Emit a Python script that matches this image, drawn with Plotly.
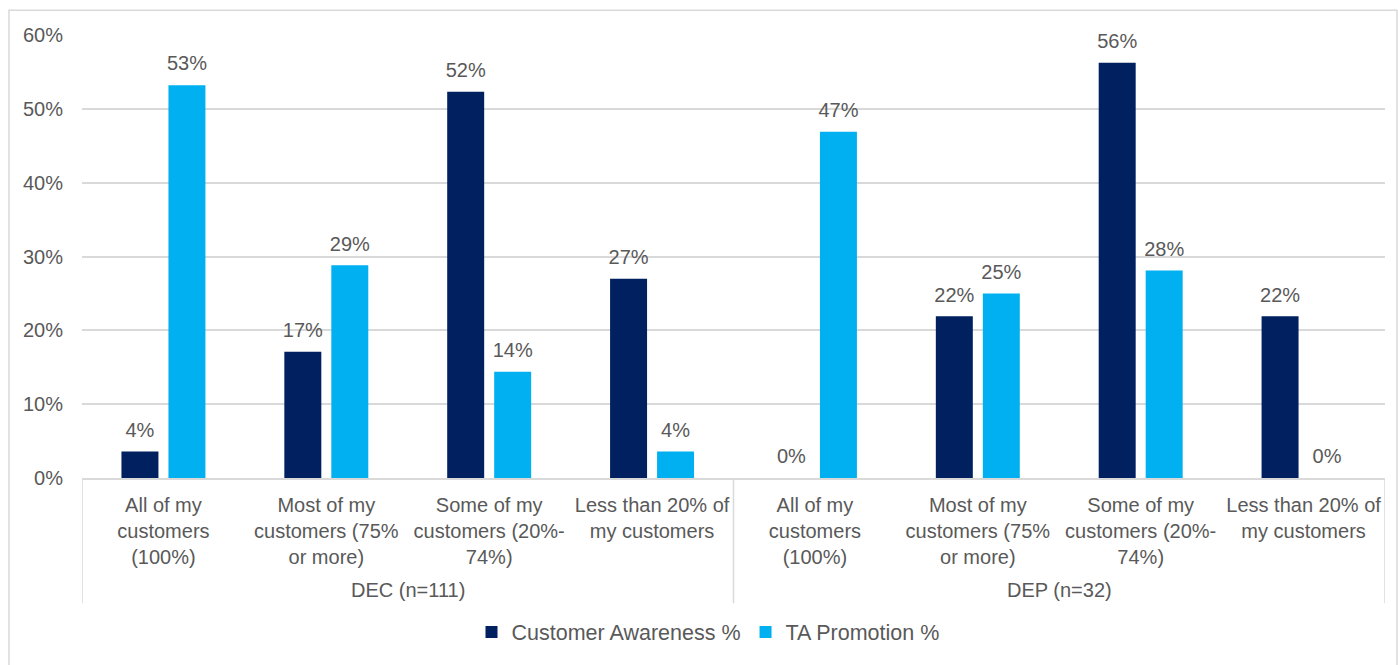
import plotly.graph_objects as go

# Survey groups and answer categories
group_names = ["DEC (n=111)", "DEP (n=32)"]
answers = [
    "All of my<br>customers<br>(100%)",
    "Most of my<br>customers (75%<br>or more)",
    "Some of my<br>customers (20%-<br>74%)",
    "Less than 20% of<br>my customers",
]
categories = answers * 2

# Share of respondents (fractions)
customer_awareness = [0.036, 0.171, 0.523, 0.270, 0.0, 0.219, 0.5625, 0.219]
ta_promotion = [0.532, 0.288, 0.144, 0.036, 0.469, 0.25, 0.281, 0.0]

FONT = "Liberation Sans"
TEXT = "#595959"
GRID = "#d9d9d9"

xpos = list(range(len(categories)))
n_per_group = len(answers)

fig = go.Figure()
series = [
    ("Customer Awareness %", customer_awareness, "#002060"),
    ("TA Promotion %", ta_promotion, "#00B0F0"),
]
for name, vals, color in series:
    fig.add_trace(go.Bar(
        name=name, x=xpos, y=vals,
        marker=dict(color=color, line=dict(width=0)),
        offsetgroup=name, hoverinfo="name+y",
    ))
# value labels, grouped alongside the bars
for name, vals, color in series:
    fig.add_trace(go.Scatter(
        x=xpos, y=vals, mode="markers+text",
        marker=dict(size=14, color="rgba(0,0,0,0)"),
        text=[f"{v:.0%}" for v in vals],
        textposition="top center",
        textfont=dict(family=FONT, size=20, color=TEXT),
        offsetgroup=name, showlegend=False, hoverinfo="skip",
        cliponaxis=False,
    ))

pw, ph = 1303, 446
def py(px):
    return (481 - px) / ph

# group labels beneath the category labels
for g, name in enumerate(group_names):
    fig.add_annotation(
        x=g * n_per_group + (n_per_group - 1) / 2, xref="x",
        y=py(594), yref="paper", yanchor="middle",
        text=name, showarrow=False,
        font=dict(family=FONT, size=20, color=TEXT),
    )
# group dividers
for g in range(len(group_names) + 1):
    xd = g * n_per_group - 0.5
    fig.add_shape(type="line", xref="x", yref="paper",
                  x0=xd, x1=xd, y0=0, y1=py(607),
                  line=dict(color=GRID, width=1.5))

# Outer frame around the chart
fig.add_shape(
    type="rect", xref="paper", yref="paper",
    x0=(9 - 82) / pw, x1=(1397 - 82) / pw,
    y0=py(700), y1=py(10),
    line=dict(color=GRID, width=1.5), layer="below",
)

fig.update_layout(
    width=1398, height=665,
    margin=dict(l=82, r=13, t=35, b=184),
    paper_bgcolor="white", plot_bgcolor="white",
    barmode="group", bargap=0.423, bargroupgap=0.213,
    scattermode="group", scattergap=0.423,
    font=dict(family=FONT, size=20, color=TEXT),
    showlegend=True,
    legend=dict(
        orientation="h", x=(711 - 3 - 82) / pw, xanchor="center",
        y=py(636), yanchor="middle",
        font=dict(family=FONT, size=21.5, color=TEXT),
    ),
    xaxis=dict(
        range=[-0.5, len(categories) - 0.5],
        tickmode="array", tickvals=xpos, ticktext=categories,
        showline=True, linecolor=GRID, linewidth=1.5,
        ticks="", tickangle=0, ticklabelstandoff=8,
        tickfont=dict(family=FONT, size=20, color=TEXT),
        showgrid=False, zeroline=False,
    ),
    yaxis=dict(
        range=[0, 0.6], dtick=0.1, tickformat=".0%",
        showgrid=True, gridcolor=GRID, gridwidth=1.5,
        zeroline=False, showline=False,
        ticks="", ticklabelstandoff=18,
        tickfont=dict(family=FONT, size=20, color=TEXT),
    ),
)

fig.write_html("out.html")
